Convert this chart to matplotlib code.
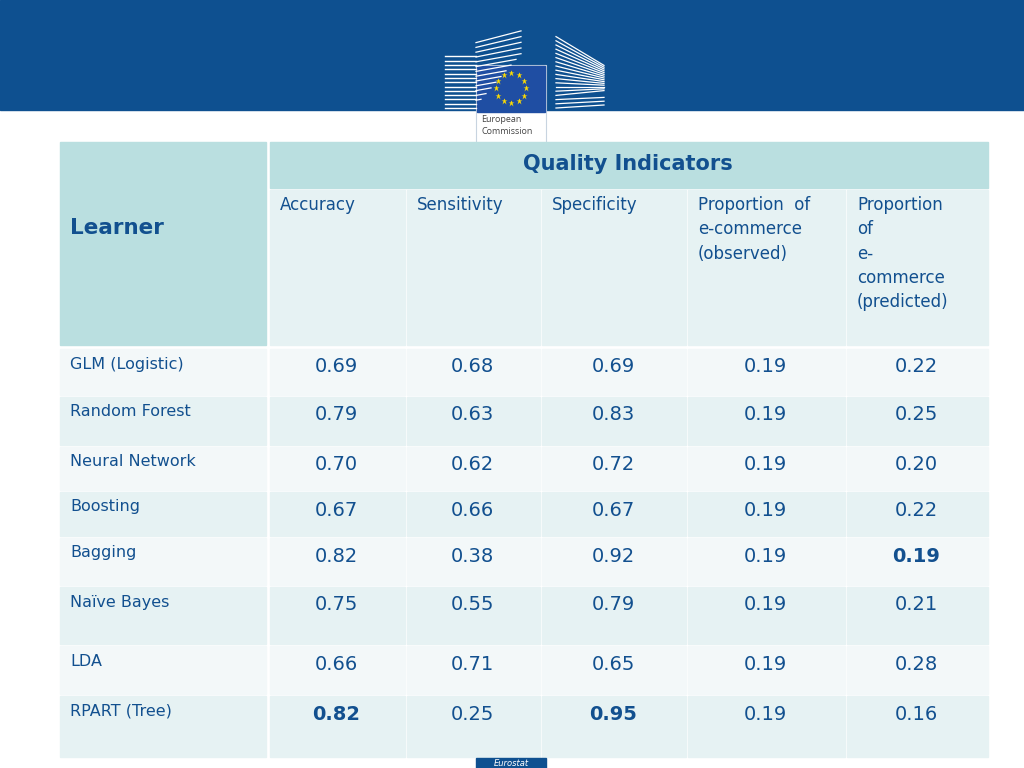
import matplotlib
matplotlib.use("Agg")
import matplotlib.pyplot as plt
from matplotlib.patches import Rectangle
import numpy as np

learners = ["GLM (Logistic)", "Random Forest", "Neural Network", "Boosting",
            "Bagging", "Naïve Bayes", "LDA", "RPART (Tree)"]
columns = ["Accuracy", "Sensitivity", "Specificity",
           "Proportion  of\ne-commerce\n(observed)", "Proportion\nof\ne-\ncommerce\n(predicted)"]
accuracy = [0.69, 0.79, 0.70, 0.67, 0.82, 0.75, 0.66, 0.82]
sensitivity = [0.68, 0.63, 0.62, 0.66, 0.38, 0.55, 0.71, 0.25]
specificity = [0.69, 0.83, 0.72, 0.67, 0.92, 0.79, 0.65, 0.95]
prop_observed = [0.19] * 8
prop_predicted = [0.22, 0.25, 0.20, 0.22, 0.19, 0.21, 0.28, 0.16]
bold_cells = [(7, 0), (7, 2), (4, 4)]

values = [accuracy, sensitivity, specificity, prop_observed, prop_predicted]

TXT = "#12508f"
HEAD = "#badfe0"
SUB = "#e6f2f3"
ROW_A = "#f3f8f9"
ROW_B = "#e6f2f3"

fig = plt.figure(figsize=(10.24, 7.68), dpi=100)
ax = fig.add_axes([0, 0, 1, 1])
ax.set_xlim(0, 1024); ax.set_ylim(768, 0); ax.axis("off")

# banner
ax.add_patch(Rectangle((0, 0), 1024, 110, color="#0e5090"))
# logo buildings (left)
for i in range(13):
    y = 108 - i * 4.3
    ax.plot([445, 476], [y, y], color="white", lw=1.0)
for i in range(14):
    y = 105 - i * 4.8
    ax.plot([476, 476 + 45 * min(1, i / 9)], [y, y - i * 0.9], color="white", lw=0.9)
# right building
for i in range(18):
    y = 108 - i * 4.2
    ax.plot([556, 604], [y, y - 3 + i * 0.4 if i < 3 else 108 - 12 - i * 1.8], color="white", lw=0.9)
ax.add_patch(Rectangle((476, 65), 70, 78, facecolor="white", edgecolor="#c8d4e0", lw=0.8))
ax.add_patch(Rectangle((477, 66), 68, 46, color="#1f4ea3"))
for k in range(12):
    a = 2 * np.pi * k / 12
    ax.plot(511 + 15 * np.sin(a), 88 - 15 * np.cos(a), marker="*", color="#ffdd00", ms=5, mec="none")
ax.text(481, 120, "European", fontsize=6.5, color="#444444", va="center", family="Open Sans")
ax.text(481, 132, "Commission", fontsize=6.5, color="#444444", va="center", family="Open Sans")

# table layout
xb = [60, 268, 405, 540, 686, 845, 988]
yb = [347, 395, 445, 490, 536, 585, 644, 694, 757]
gap = 2

ax.add_patch(Rectangle((xb[0], 142), xb[1] - xb[0] - gap, yb[0] - 142 - gap, color=HEAD))
ax.add_patch(Rectangle((xb[1] + gap, 142), xb[-1] - xb[1] - gap, 46, color=HEAD))
ax.text((xb[1] + xb[-1]) / 2, 164, "Quality Indicators", fontsize=15, fontweight="bold",
        color=TXT, ha="center", va="center")
ax.text(70, 228, "Learner", fontsize=15.5, fontweight="bold", color=TXT, va="center")
for j, name in enumerate(columns):
    x0 = xb[j + 1]
    ax.add_patch(Rectangle((x0 + gap, 190), xb[j + 2] - x0 - gap, yb[0] - 190 - gap, color=SUB))
    ax.text(x0 + 12, 196, name, fontsize=12, color=TXT, va="top", ha="left", linespacing=1.45)

for i, name in enumerate(learners):
    y0, y1 = yb[i], yb[i + 1]
    col = ROW_A if i % 2 == 0 else ROW_B
    for j in range(6):
        ax.add_patch(Rectangle((xb[j] + (gap if j else 0), y0 + gap),
                               xb[j + 1] - xb[j] - gap, y1 - y0 - gap, color=col))
    ax.text(70, y0 + 17, name, fontsize=11.5, color=TXT, va="center", ha="left")
    for j in range(5):
        bold = (i, j) in bold_cells
        ax.text((xb[j + 1] + xb[j + 2]) / 2, y0 + 20, f"{values[j][i]:.2f}", fontsize=14,
                color=TXT, ha="center", va="center", fontweight="bold" if bold else "normal")

ax.add_patch(Rectangle((476, 758), 70, 10, color="#0e5090"))
ax.text(511, 764, "Eurostat", fontsize=6, color="white", ha="center", va="center", style="italic")

fig.savefig("out.png", dpi=100)
